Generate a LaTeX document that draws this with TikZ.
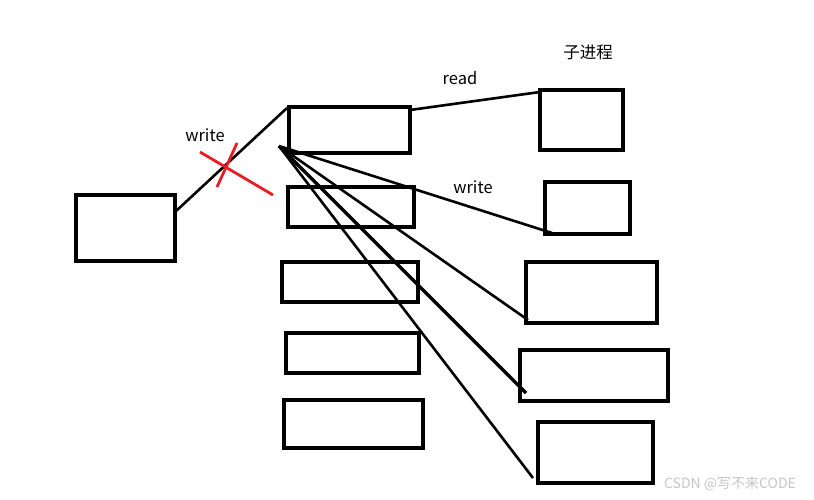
\documentclass[tikz,border=0pt]{standalone}
\usepackage{fontspec}
\setmainfont{Noto Sans CJK SC}
\usetikzlibrary{calc}
\definecolor{crossred}{RGB}{232,28,36}

\begin{document}
\begin{tikzpicture}[x=1pt,y=1pt,yscale=-1,xscale=1,
  box/.style={draw, line width=3.2pt, inner sep=0, outer sep=0},
  wire/.style={line width=2.6pt},
  lbl/.style={font=\fontsize{16.5}{19}\selectfont}]
\useasboundingbox [fill=white] (0,0) rectangle (814,500);
% parent process
\node [box, minimum width=99, minimum height=66] (pa) at (125.5,228) {};
% pipes
\node [box, minimum width=121, minimum height=46] (m1) at (349.5,130) {};
\node [box, minimum width=126, minimum height=40] (m2) at (351,207) {};
\node [box, minimum width=136, minimum height=40] (m3) at (350,282) {};
\node [box, minimum width=133, minimum height=40] (m4) at (352.5,353) {};
\node [box, minimum width=139, minimum height=48] (m5) at (353.5,424) {};
% child processes
\node [box, minimum width=83, minimum height=60] (r1) at (581.5,120) {};
\node [box, minimum width=85, minimum height=52] (r2) at (587.5,208) {};
\node [box, minimum width=131, minimum height=61] (r3) at (591.5,292.5) {};
\node [box, minimum width=148, minimum height=51] (r4) at (594,375.5) {};
\node [box, minimum width=115, minimum height=61] (r5) at (595.5,452.5) {};
\node [lbl] (child) at (588,52) {子进程};
% parent -> first pipe
\draw [wire] ($(pa.north east)+(0,17)$) -- ($(m1.north west)+(-2,1)$);
\node [lbl] (w1) at (205,135) {write};
\draw [crossred, line width=2.8pt] (200,152) -- (273,195);
\draw [crossred, line width=2.8pt] (237,143) -- (217,187);
% first pipe -> first child
\draw [wire] ($(m1.north east)+(0,3)$) -- ($(r1.north west)+(0,2)$);
\node [lbl] (rd) at (460,78) {read};
% fan of writes
\coordinate (src) at ($(m1.south west)+(-10,-7)$);
\draw [wire] (src) -- ($(r2.south west)+(7,-1)$);
\draw [wire] (src) -- ($(r3.south west)+(2,-3)$);
\draw [line width=3.4pt] (src) -- ($(r4.south west)+(6,-8)$);
\draw [wire] (src) -- ($(r5.south west)+(-5,-5)$);
\node [lbl] (w2) at (473,187) {write};
% watermark
\node [text=gray!45, font=\fontsize{14}{16}\selectfont] (wm) at (730,484) {CSDN @写不来CODE};
\end{tikzpicture}
\end{document}
